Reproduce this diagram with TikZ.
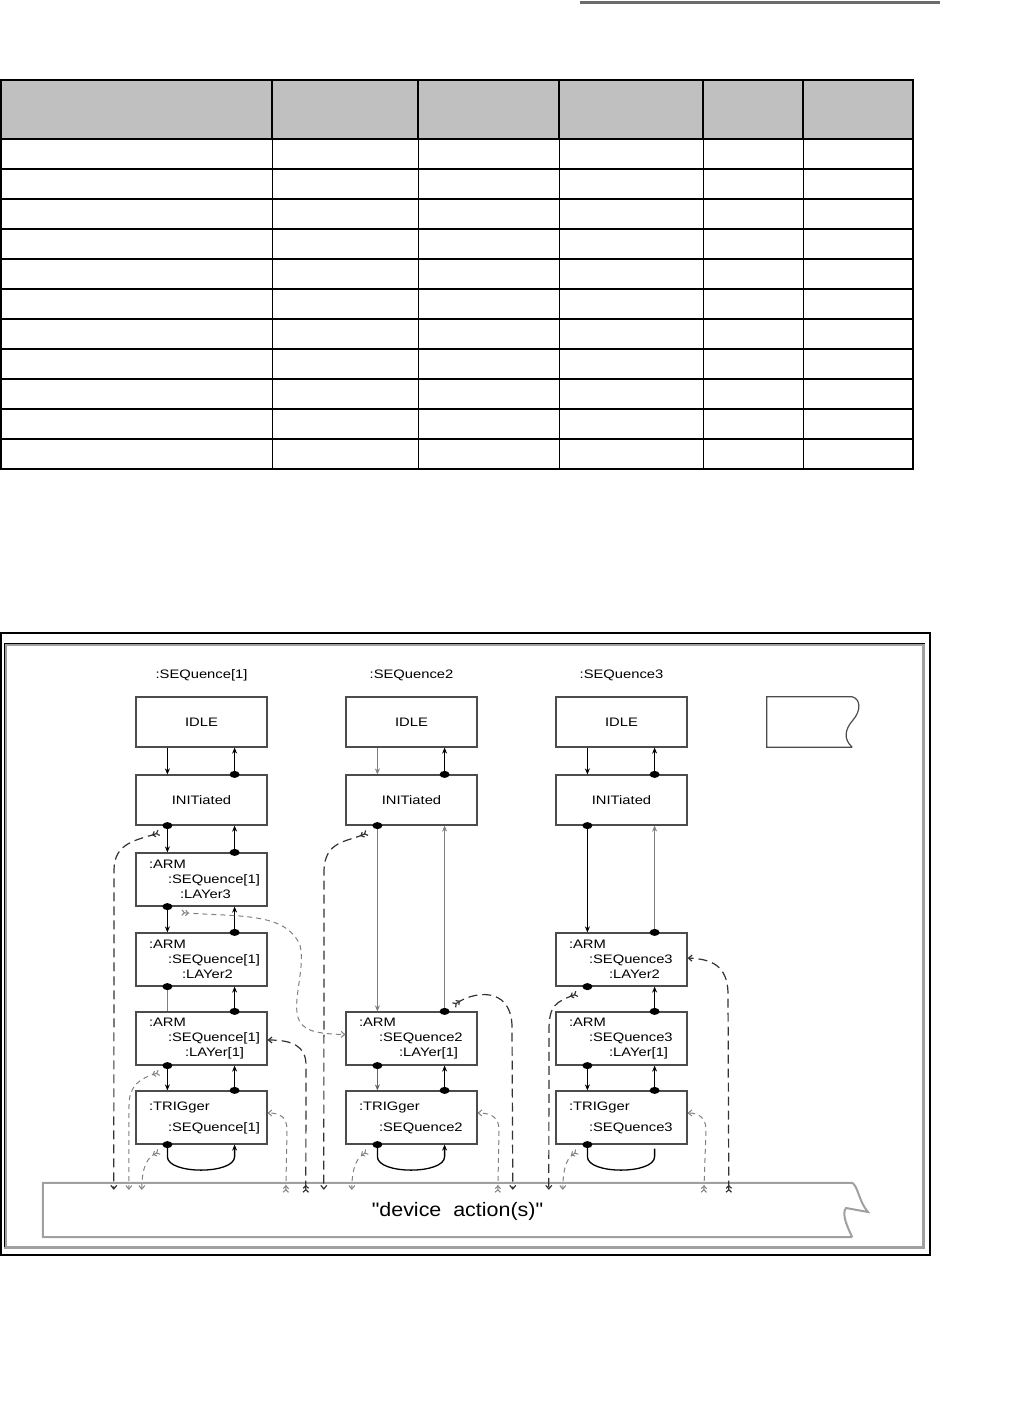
\documentclass[tikz,border=0pt]{standalone}
\usepackage{fontspec}
\newfontfamily\diagfont[FakeStretch=1.2]{Liberation Sans}
\newfontfamily\devfont[FakeStretch=1.1]{Liberation Sans}
\usetikzlibrary{arrows.meta}
\definecolor{headgray}{HTML}{C0C0C0}
\definecolor{framegray}{HTML}{A0A0A0}
\definecolor{rulegray}{HTML}{6B6B6B}

\begin{document}
\begin{tikzpicture}[x=1pt,y=-1pt,
  stbox/.style={draw=black!70,line width=1.2pt,minimum width=131pt,minimum height=50pt,
                inner sep=0pt,font=\diagfont\fontsize{12.3pt}{15pt}\selectfont,align=center},
  armbox/.style={stbox,minimum height=53pt,text width=105pt,inner xsep=13pt,align=left},
  seqlabel/.style={font=\diagfont\fontsize{12.3pt}{15pt}\selectfont,inner sep=0pt},
  shapebox/.style={minimum width=#1,inner sep=0pt},
  devtext/.style={font=\devfont\fontsize{19.5pt}{22pt}\selectfont,inner sep=0pt},
  sarrow/.style={-{Stealth[length=6pt,width=5pt]},line width=1.3pt},
  sline/.style={line width=1.3pt},
  dlight/.style={gray,line width=1pt,dash pattern=on 5pt off 4pt},
  ddark/.style={black!80,line width=1.2pt,dash pattern=on 9pt off 5pt},
  ttip/.style={{Straight Barb[reversed,length=2.5pt,width=5.5pt]Straight Barb[reversed,length=2.5pt,width=5.5pt]}-{Straight Barb[length=3.5pt,width=6pt]}}
]
\useasboundingbox (0,0) rectangle (1016,1411);

% rule and table
\draw[rulegray,line width=3pt] (580,2) -- (940,2);
\fill[headgray] (0,80) rectangle (913,139);
\draw[line width=1.2pt] (0,169) -- (913,169) (0,199) -- (913,199) (0,229) -- (913,229)
  (0,259) -- (913,259) (0,289) -- (913,289) (0,319) -- (913,319) (0,349) -- (913,349)
  (0,379) -- (913,379) (0,409) -- (913,409) (0,439) -- (913,439);
\draw[line width=1pt] (272,139) -- (272,469) (418,139) -- (418,469) (559,139) -- (559,469)
  (703,139) -- (703,469) (803,139) -- (803,469);
\draw[line width=2pt] (272,80) -- (272,139) (418,80) -- (418,139) (559,80) -- (559,139)
  (703,80) -- (703,139) (803,80) -- (803,139);
\draw[line width=2pt] (0,139) -- (913,139);
\draw[line width=2pt] (1,80) rectangle (913,469);

% frame
\draw[line width=2pt] (1,633) rectangle (930,1255);
\draw[framegray,line width=3pt] (5.5,644.5) rectangle (923.5,1247);
\draw[line width=1pt] (4,1247) -- (4,643) -- (925,643);

% headings
\node[seqlabel] (seq1) at (201.5,675) {:SEQuence[1]};
\node[seqlabel] (seq2) at (411.5,675) {:SEQuence2};
\node[seqlabel] (seq3) at (621.5,675) {:SEQuence3};

% sequence 1
\node[stbox] (idle1) at (201.5,722) {IDLE};
\node[stbox] (init1) at (201.5,800) {INITiated};
\node[armbox] (arm13) at (201.5,879.5) {\mbox{:ARM}\\\hspace*{19pt}\mbox{:SEQuence[1]}\\\hspace*{31pt}\mbox{:LAYer3}};
\node[armbox] (arm12) at (201.5,959.5) {\mbox{:ARM}\\\hspace*{19pt}\mbox{:SEQuence[1]}\\\hspace*{33pt}\mbox{:LAYer2}};
\node[armbox] (arm11) at (201.5,1038.5) {\mbox{:ARM}\\\hspace*{19pt}\mbox{:SEQuence[1]}\\\hspace*{36pt}\mbox{:LAYer[1]}};
\node[armbox] (trig1) at (201.5,1117.5) {\mbox{:TRIGger}\\[6pt]\hspace*{19pt}\mbox{:SEQuence[1]}};

% sequence 2
\node[stbox] (idle2) at (411.5,722) {IDLE};
\node[stbox] (init2) at (411.5,800) {INITiated};
\node[armbox] (arm21) at (411.5,1038.5) {\mbox{:ARM}\\\hspace*{20pt}\mbox{:SEQuence2}\\\hspace*{40pt}\mbox{:LAYer[1]}};
\node[armbox] (trig2) at (411.5,1117.5) {\mbox{:TRIGger}\\[6pt]\hspace*{20pt}\mbox{:SEQuence2}};

% sequence 3
\node[stbox] (idle3) at (621.5,722) {IDLE};
\node[stbox] (init3) at (621.5,800) {INITiated};
\node[armbox] (arm32) at (621.5,959.5) {\mbox{:ARM}\\\hspace*{20pt}\mbox{:SEQuence3}\\\hspace*{40pt}\mbox{:LAYer2}};
\node[armbox] (arm31) at (621.5,1038.5) {\mbox{:ARM}\\\hspace*{20pt}\mbox{:SEQuence3}\\\hspace*{40pt}\mbox{:LAYer[1]}};
\node[armbox] (trig3) at (621.5,1117.5) {\mbox{:TRIGger}\\[6pt]\hspace*{20pt}\mbox{:SEQuence3}};

% torn boxes
\node[shapebox=85pt,minimum height=50pt] (stub) at (809.5,722) {};
\draw[black!70,line width=1.2pt] (stub.south east) -- (stub.south west) -- (stub.north west) -- (stub.north east)
  .. controls (861,699) and (861,711) .. (853,720) .. controls (845,729) and (843,739) .. (stub.south east);
\node[shapebox=809pt,minimum height=54pt] (dev) at (447.5,1210) {};
\draw[framegray,line width=2pt] (dev.south east) -- (dev.south west) -- (dev.north west) -- (dev.north east)
  .. controls (858,1186) and (859,1202) .. (868,1212) -- (846,1208) .. controls (841,1214) and (848,1228) .. (dev.south east);
\node[devtext] (devlabel) at ([xshift=10pt,yshift=-1pt]dev.center) {"device\ \ action(s)"};

% solid transitions, sequence 1
\draw[sarrow] ([xshift=32pt]idle1.south west) -- ([xshift=32pt]init1.north west);
\draw[sarrow] ([xshift=-33pt]init1.north east) -- ([xshift=-33pt]idle1.south east);
\draw[sarrow] ([xshift=32pt]init1.south west) -- ([xshift=32pt]arm13.north west);
\draw[sarrow] ([xshift=-33pt]arm13.north east) -- ([xshift=-33pt]init1.south east);
\draw[sarrow] ([xshift=32pt]arm13.south west) -- ([xshift=32pt]arm12.north west);
\draw[sarrow] ([xshift=-33pt]arm12.north east) -- ([xshift=-33pt]arm13.south east);
\draw[sline,gray] ([xshift=32pt]arm12.south west) -- ([xshift=32pt]arm11.north west);
\draw[sarrow] ([xshift=-33pt]arm11.north east) -- ([xshift=-33pt]arm12.south east);
\draw[sarrow] ([xshift=32pt]arm11.south west) -- ([xshift=32pt]trig1.north west);
\draw[sarrow] ([xshift=-33pt]trig1.north east) -- ([xshift=-33pt]arm11.south east);
\draw[sarrow] ([xshift=32pt]trig1.south west) -- ++(0,12) .. controls +(0,18) and +(0,18) .. ([xshift=-33pt,yshift=-12pt]trig1.south east) -- ([xshift=-33pt]trig1.south east);

% solid transitions, sequence 2
\draw[sarrow,gray] ([xshift=32pt]idle2.south west) -- ([xshift=32pt]init2.north west);
\draw[sarrow] ([xshift=-33pt]init2.north east) -- ([xshift=-33pt]idle2.south east);
\draw[sarrow,gray] ([xshift=32pt]init2.south west) -- ([xshift=32pt]arm21.north west);
\draw[sarrow,gray] ([xshift=-33pt]arm21.north east) -- ([xshift=-33pt]init2.south east);
\draw[sarrow,black!60] ([xshift=32pt]arm21.south west) -- ([xshift=32pt]trig2.north west);
\draw[sarrow] ([xshift=-33pt]trig2.north east) -- ([xshift=-33pt]arm21.south east);
\draw[sarrow] ([xshift=32pt]trig2.south west) -- ++(0,12) .. controls +(0,18) and +(0,18) .. ([xshift=-33pt,yshift=-12pt]trig2.south east) -- ([xshift=-33pt]trig2.south east);

% solid transitions, sequence 3
\draw[sarrow] ([xshift=32pt]idle3.south west) -- ([xshift=32pt]init3.north west);
\draw[sarrow] ([xshift=-33pt]init3.north east) -- ([xshift=-33pt]idle3.south east);
\draw[sarrow] ([xshift=32pt]init3.south west) -- ([xshift=32pt]arm32.north west);
\draw[sarrow,gray] ([xshift=-33pt]arm32.north east) -- ([xshift=-33pt]init3.south east);
\draw[sarrow] ([xshift=-33pt]arm31.north east) -- ([xshift=-33pt]arm32.south east);
\draw[sarrow] ([xshift=32pt]arm31.south west) -- ([xshift=32pt]trig3.north west);
\draw[sarrow] ([xshift=-33pt]trig3.north east) -- ([xshift=-33pt]arm31.south east);
\draw[sline] ([xshift=32pt]trig3.south west) -- ++(0,12) .. controls +(0,18) and +(0,18) .. ([xshift=-33pt,yshift=-12pt]trig3.south east) -- ([xshift=-33pt,yshift=-4pt]trig3.south east);

% dots
\fill ([xshift=-33pt]init1.north east) ellipse (5pt and 3.5pt) ([xshift=32pt]init1.south west) ellipse (5pt and 3.5pt)
  ([xshift=-33pt]arm13.north east) ellipse (5pt and 3.5pt) ([xshift=32pt]arm13.south west) ellipse (5pt and 3.5pt)
  ([xshift=-33pt]arm12.north east) ellipse (5pt and 3.5pt) ([xshift=32pt]arm12.south west) ellipse (5pt and 3.5pt)
  ([xshift=-33pt]arm11.north east) ellipse (5pt and 3.5pt) ([xshift=32pt]arm11.south west) ellipse (5pt and 3.5pt)
  ([xshift=-33pt]trig1.north east) ellipse (5pt and 3.5pt) ([xshift=32pt]trig1.south west) ellipse (5pt and 3.5pt);
\fill ([xshift=-33pt]init2.north east) ellipse (5pt and 3.5pt) ([xshift=32pt]init2.south west) ellipse (5pt and 3.5pt)
  ([xshift=-33pt]arm21.north east) ellipse (5pt and 3.5pt) ([xshift=32pt]arm21.south west) ellipse (5pt and 3.5pt)
  ([xshift=-33pt]trig2.north east) ellipse (5pt and 3.5pt) ([xshift=32pt]trig2.south west) ellipse (5pt and 3.5pt);
\fill ([xshift=-33pt]init3.north east) ellipse (5pt and 3.5pt) ([xshift=32pt]init3.south west) ellipse (5pt and 3.5pt)
  ([xshift=-33pt]arm32.north east) ellipse (5pt and 3.5pt) ([xshift=32pt]arm32.south west) ellipse (5pt and 3.5pt)
  ([xshift=-33pt]arm31.north east) ellipse (5pt and 3.5pt) ([xshift=32pt]arm31.south west) ellipse (5pt and 3.5pt)
  ([xshift=-33pt]trig3.north east) ellipse (5pt and 3.5pt) ([xshift=32pt]trig3.south west) ellipse (5pt and 3.5pt);

% dashed links to and from the device actions
\draw[ddark,ttip] ([xshift=24pt,yshift=-7pt]init1.south west) .. controls (138,840) and (114,842) .. (114,870) -- ([xshift=71pt,yshift=-7pt]dev.north west);
\draw[dlight,ttip] ([xshift=24pt,yshift=-7pt]arm11.south west) .. controls (140,1078) and (129,1086) .. (129,1105) -- ([xshift=86pt,yshift=-7pt]dev.north west);
\draw[dlight,ttip] ([xshift=24pt,yshift=-7pt]trig1.south west) .. controls (148,1157) and (142,1165) .. ([xshift=99pt,yshift=-7pt]dev.north west);
\draw[dlight,ttip] ([xshift=46pt,yshift=-6pt]arm13.south west) .. controls (240,917) and (285,912) .. (300,945)
  .. controls (306,970) and (290,1005) .. (300,1022) .. controls (306,1032) and (322,1034) .. ([yshift=4pt]arm21.west);
\draw[ddark,ttip] ([xshift=22pt,yshift=-7pt]init2.south west) .. controls (348,842) and (324,840) .. (324,872) -- ([xshift=281pt,yshift=-7pt]dev.north west);
\draw[ddark,ttip] ([xshift=263pt,yshift=-10pt]dev.north west) -- (306,1065) .. controls (306,1046) and (292,1040) .. ([yshift=-1.5pt]arm11.east);
\draw[dlight,ttip] ([xshift=243pt,yshift=-10pt]dev.north west) -- (287,1130) .. controls (287,1117) and (280,1113) .. ([yshift=4.5pt]trig1.east);
\draw[ddark,ttip] ([xshift=-24pt,yshift=6pt]arm21.north east) .. controls (472,992) and (510,985) .. (512,1025) -- ([xshift=470pt,yshift=-7pt]dev.north west);
\draw[dlight,ttip] ([xshift=22pt,yshift=-7pt]trig2.south west) .. controls (358,1157) and (352,1165) .. ([xshift=309pt,yshift=-7pt]dev.north west);
\draw[dlight,ttip] ([xshift=455pt,yshift=-10pt]dev.north west) -- (499,1130) .. controls (499,1118) and (492,1113) .. ([yshift=4.5pt]trig2.east);
\draw[ddark,ttip] ([xshift=22pt,yshift=-7pt]arm32.south west) .. controls (556,1002) and (549,1005) .. (549,1030) -- ([xshift=506pt,yshift=-7pt]dev.north west);
\draw[dlight,ttip] ([xshift=22pt,yshift=-7pt]trig3.south west) .. controls (568,1157) and (563,1165) .. ([xshift=520pt,yshift=-7pt]dev.north west);
\draw[dlight,ttip] ([xshift=661pt,yshift=-10pt]dev.north west) -- (706,1130) .. controls (706,1118) and (699,1113) .. ([yshift=4.5pt]trig3.east);
\draw[ddark,ttip] ([xshift=686pt,yshift=-10pt]dev.north west) -- (728,992) .. controls (727,966) and (712,959) .. ([yshift=1.5pt]arm32.east);
\end{tikzpicture}
\end{document}
